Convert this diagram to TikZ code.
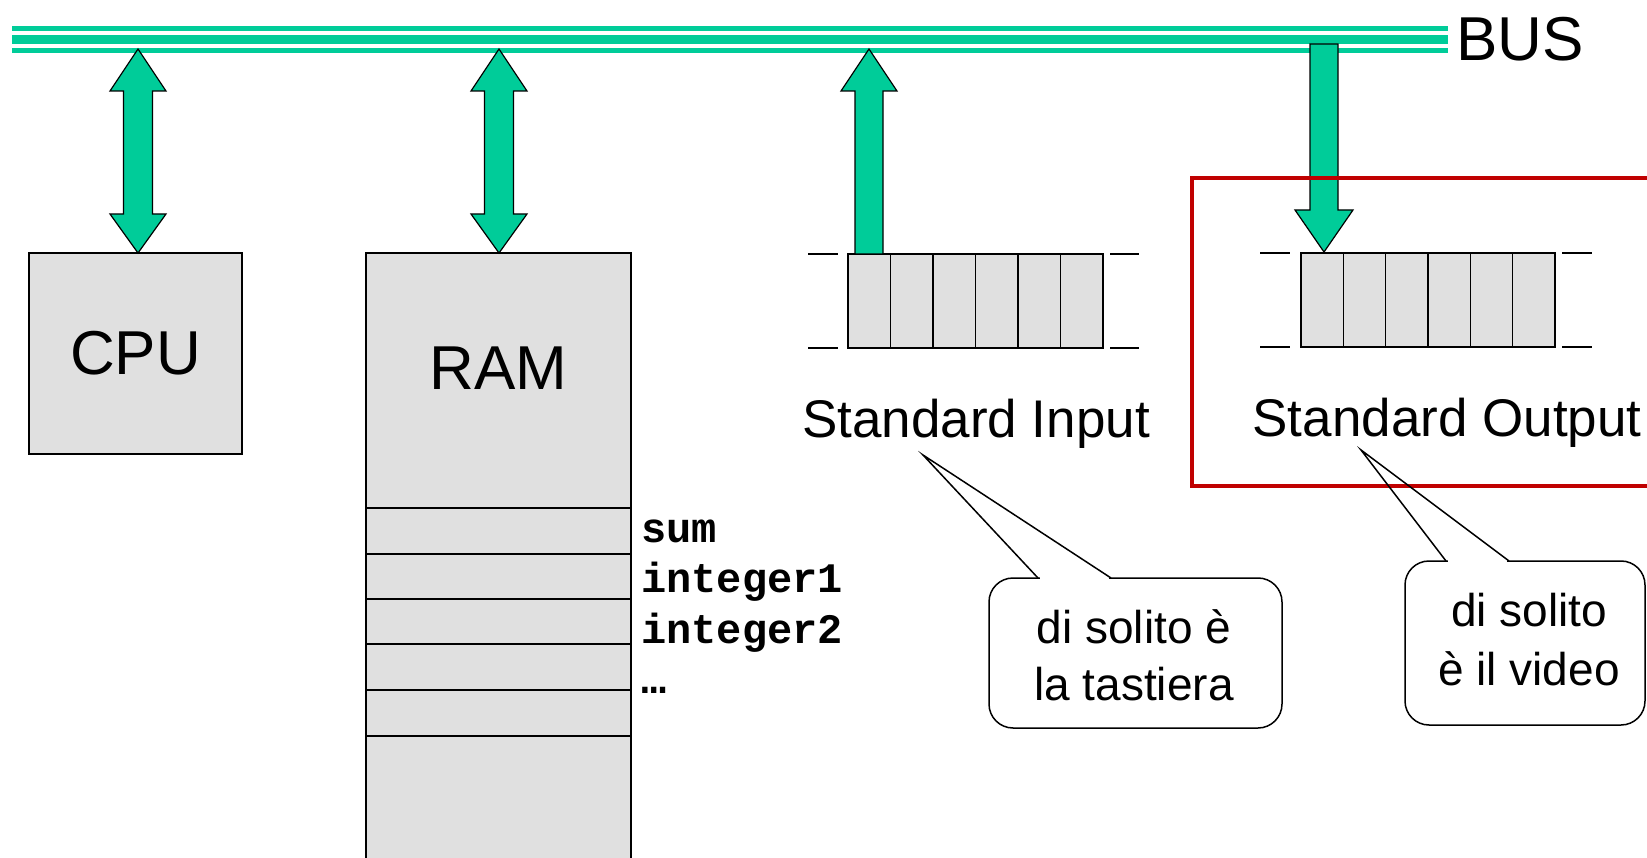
\documentclass[tikz,border=0pt]{standalone}
\usepackage{fontspec}
\setmainfont{Liberation Sans}
\setmonofont{Liberation Mono}
\definecolor{busgreen}{RGB}{0,204,153}
\definecolor{cellgray}{RGB}{224,224,224}
\definecolor{frame}{RGB}{192,0,0}
\begin{document}
\begin{tikzpicture}[x=1pt,y=-1pt,
  arrowshape/.style={fill=busgreen, draw=black, line width=1.2pt, line join=miter},
  cell/.style={draw=black, fill=cellgray, line width=1.5pt, inner sep=0pt},
  tickline/.style={draw=black, line width=1.5pt},
  callout/.style={draw=black, fill=white, line width=1.5pt, rounded corners=24pt, inner sep=0pt},
  big/.style={font=\fontsize{62}{62}\selectfont, inner sep=0pt},
  std/.style={font=\fontsize{53}{53}\selectfont, inner sep=0pt, anchor=base},
  note/.style={font=\fontsize{46}{46}\selectfont, inner sep=0pt, anchor=base},
  var/.style={font=\ttfamily\bfseries\fontsize{42}{42}\selectfont, inner sep=0pt, anchor=base west}]
\useasboundingbox (0,0) rectangle (1647,858);
\clip (0,0) rectangle (1647,858);

% bus
\coordinate (busL) at (12,39.5);
\coordinate (busR) at (1448,39.5);
\draw[busgreen, line width=5pt] (12,28.5) -- (1448,28.5);
\draw[busgreen, line width=9pt] (busL) -- (busR);
\draw[busgreen, line width=5pt] (12,50.5) -- (1448,50.5);
\node[big, anchor=base] (bus) at (1520,61) {BUS};

% CPU
\node[cell, big, minimum width=213pt, minimum height=201pt] (cpu) at (135.5,353.5) {CPU};

% RAM
\draw[cell] (366,253) rectangle (631,900);
\foreach \yy in {508,554,599,644,690,736} \draw[tickline] (366,\yy) -- (631,\yy);
\node[big] (ram) at (498.5,368) {RAM};
\node[var] (sum) at (641,542) {sum};
\node[var] (int1) at (641,592) {integer1};
\node[var] (int2) at (641,643) {integer2};
\node[var] (dots) at (641,693) {…};

% double arrows
\foreach \xx in {138,499} {
  \filldraw[arrowshape] (\xx,49) -- (\xx+28,91) -- (\xx+14.5,91) -- (\xx+14.5,214) -- (\xx+28,214)
    -- (\xx,253) -- (\xx-28,214) -- (\xx-14.5,214) -- (\xx-14.5,91) -- (\xx-28,91) -- cycle;
}

% standard input buffer
\node[cell, minimum width=255pt, minimum height=94pt] (inbuf) at (975.5,301) {};
\foreach \i in {1,...,5} \draw[tickline] (848+42.5*\i,254) -- (848+42.5*\i,348);
\draw[tickline] (808,254) -- (838,254);
\draw[tickline] (808,348) -- (838,348);
\draw[tickline] (1110,254) -- (1139,254);
\draw[tickline] (1110,348) -- (1139,348);
\filldraw[arrowshape] (869,49) -- (897,91) -- (883,91) -- (883,254) -- (855,254) -- (855,91) -- (841,91) -- cycle;
\node[std] (stdin) at (976,438) {Standard Input};

% standard output buffer
\node[cell, minimum width=254pt, minimum height=94pt] (outbuf) at (1428,300) {};
\foreach \i in {1,...,5} \draw[tickline] (1301+42.33*\i,253) -- (1301+42.33*\i,347);
\draw[tickline] (1260,253) -- (1290,253);
\draw[tickline] (1260,347) -- (1290,347);
\draw[tickline] (1562,253) -- (1592,253);
\draw[tickline] (1562,347) -- (1592,347);
\filldraw[arrowshape] (1310,44) -- (1338,44) -- (1338,210) -- (1353,210) -- (1324,252) -- (1295,210) -- (1310,210) -- cycle;
\node[std] (stdout) at (1447,437) {Standard Output};

% red frame
\draw[frame, line width=4pt] (1192,178) rectangle (1720,486);

% callout left
\node[callout, minimum width=293pt, minimum height=150pt] (c1) at (1135.5,653) {};
\fill[white] (1040,575) rectangle (1109,581);
\coordinate (t1) at (923,455);
\draw[line width=1.5pt, line join=miter] (1038,578) -- (t1) -- (1111,578);
\node[note] (c1a) at (1134,643) {di solito è};
\node[note] (c1b) at (1134,700) {la tastiera};

% callout right
\node[callout, minimum width=240pt, minimum height=164pt] (c2) at (1525,643) {};
\fill[white] (1448,558) rectangle (1507,564);
\coordinate (t2) at (1361,450);
\draw[line width=1.5pt, line join=miter] (1446,561) -- (t2) -- (1509,561);
\node[note] (c2a) at (1529,626) {di solito};
\node[note] (c2b) at (1529,685) {è il video};
\end{tikzpicture}
\end{document}
